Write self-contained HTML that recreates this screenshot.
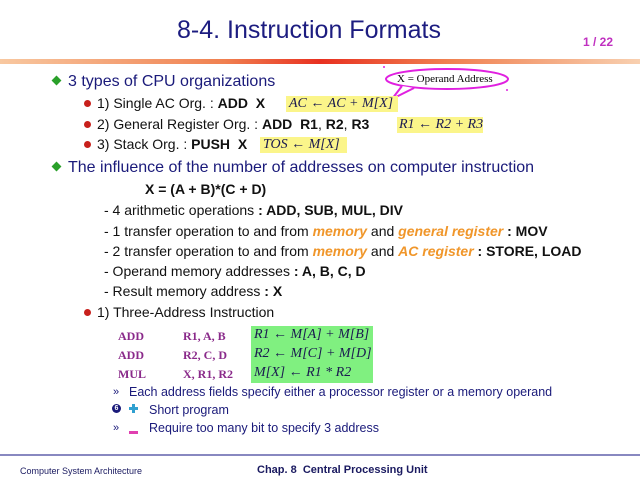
<!DOCTYPE html>
<html><head><meta charset="utf-8"><style>
body{margin:0;width:640px;height:480px;background:#fff;position:relative;overflow:hidden;font-family:"Liberation Sans",sans-serif}
.a{position:absolute;white-space:nowrap}
.n{color:#1a1a7a}
.k{color:#111}
.t15{font-size:16px;line-height:18px}
.t13{font-size:14px;line-height:16px}
.o{color:#f0962a;font-weight:bold;font-style:italic}
.dot{position:absolute;width:7px;height:7px;border-radius:50%;background:#c8201c}
.dia{position:absolute;width:7px;height:7px;background:#2aa02a;transform:rotate(45deg)}
.y{position:absolute;background:#fbf58a}
.m{font-family:"Liberation Serif",serif;font-style:italic;font-size:14px;line-height:16px;color:#1a1a50}
.p{font-family:"Liberation Serif",serif;font-weight:bold;font-size:12px;color:#8a2a8a;line-height:14px}
</style></head><body>
<div class="a" style="left:0;width:618px;text-align:center;top:16px;font-size:25px;line-height:29px;color:#1c1c80">8-4. Instruction Formats</div>
<div class="a" style="left:583px;top:35px;font-size:12px;font-weight:bold;color:#c030c0;line-height:14px">1 / 22</div>
<div class="a" style="left:0;top:59px;width:640px;height:5px;background:linear-gradient(90deg,#f8c8a0,#f08050 35%,#e83020 50%,#f08050 70%,#f8d0b0)"></div>

<div class="dia" style="left:53px;top:77px"></div>
<div class="a n t15" style="left:68px;top:73px">3 types of CPU organizations</div>
<svg class="a" style="left:370px;top:62px" width="150" height="40"><ellipse cx="77" cy="17" rx="61" ry="10" fill="#fff" stroke="#e020e0" stroke-width="2"/><path d="M32 24 L22 37 L44 26" fill="#fff" stroke="#e020e0" stroke-width="2"/><circle cx="14" cy="5" r="1" fill="#e020e0"/><circle cx="137" cy="28" r="1" fill="#e020e0"/></svg>
<div class="a" style="left:397px;top:73px;font-family:'Liberation Serif',serif;font-size:11px;line-height:13px">X = Operand Address</div>

<div class="dot" style="left:84px;top:100px"></div>
<div class="a k t13" style="left:97px;top:95px">1) Single AC Org. : <b>ADD&nbsp; X</b></div>
<div class="y" style="left:286px;top:96px;width:112px;height:16px"></div>
<div class="a m" style="left:289px;top:96px">AC ← AC + M[X]</div>
<div class="dot" style="left:84px;top:121px"></div>
<div class="a k t13" style="left:97px;top:116px">2) General Register Org. : <b>ADD&nbsp; R1</b>, <b>R2</b>, <b>R3</b></div>
<div class="y" style="left:397px;top:117px;width:86px;height:16px"></div>
<div class="a m" style="left:399px;top:117px">R1 ← R2 + R3</div>
<div class="dot" style="left:84px;top:141px"></div>
<div class="a k t13" style="left:97px;top:136px">3) Stack Org. : <b>PUSH&nbsp; X</b></div>
<div class="y" style="left:260px;top:137px;width:87px;height:16px"></div>
<div class="a m" style="left:263px;top:137px">TOS ← M[X]</div>

<div class="dia" style="left:53px;top:163px"></div>
<div class="a n t15" style="left:68px;top:159px">The influence of the number of addresses on computer instruction</div>
<div class="a k t13" style="left:145px;top:181px;font-weight:bold">X = (A + B)*(C + D)</div>
<div class="a k t13" style="left:104px;top:202px">- 4 arithmetic operations <b>: ADD, SUB, MUL, DIV</b></div>
<div class="a k t13" style="left:104px;top:223px">- 1 transfer operation to and from <span class="o">memory</span> and <span class="o">general register</span> <b>: MOV</b></div>
<div class="a k t13" style="left:104px;top:243px">- 2 transfer operation to and from <span class="o">memory</span> and <span class="o">AC register</span> <b>: STORE, LOAD</b></div>
<div class="a k t13" style="left:104px;top:263px">- Operand memory addresses <b>: A, B, C, D</b></div>
<div class="a k t13" style="left:104px;top:283px">- Result memory address <b>: X</b></div>
<div class="dot" style="left:84px;top:309px"></div>
<div class="a k t13" style="left:97px;top:304px">1) Three-Address Instruction</div>

<div class="a p" style="left:118px;top:329px">ADD</div><div class="a p" style="left:183px;top:329px">R1, A, B</div>
<div class="a p" style="left:118px;top:348px">ADD</div><div class="a p" style="left:183px;top:348px">R2, C, D</div>
<div class="a p" style="left:118px;top:367px">MUL</div><div class="a p" style="left:183px;top:367px">X, R1, R2</div>
<div class="a" style="left:251px;top:326px;width:122px;height:57px;background:#80f080"></div>
<div class="a m" style="left:254px;top:327px">R1 ← M[A] + M[B]</div>
<div class="a m" style="left:254px;top:346px">R2 ← M[C] + M[D]</div>
<div class="a m" style="left:254px;top:365px">M[X] ← R1 * R2</div>

<div class="a n" style="left:113px;top:385px;font-size:11px;line-height:14px">»</div>
<div class="a n" style="left:129px;top:384px;font-size:12.5px;line-height:16px">Each address fields specify either a processor register or a memory operand</div>
<div class="a" style="left:112px;top:404px;width:9px;height:9px;border-radius:50%;background:#1a1a7a;color:#fff;font-size:7px;line-height:9px;text-align:center;font-weight:bold">6</div>
<div class="a" style="left:129px;top:407px;width:9px;height:3px;background:#30a0d0"></div>
<div class="a" style="left:132px;top:404px;width:3px;height:9px;background:#30a0d0"></div>
<div class="a n" style="left:149px;top:402px;font-size:12.5px;line-height:16px">Short program</div>
<div class="a n" style="left:113px;top:421px;font-size:11px;line-height:14px">»</div>
<div class="a" style="left:129px;top:431px;width:9px;height:3px;background:#e040b0"></div>
<div class="a n" style="left:149px;top:420px;font-size:12.5px;line-height:16px">Require too many bit to specify 3 address</div>

<div class="a" style="left:0;top:454px;width:640px;height:2px;background:#8888c0"></div>
<div class="a" style="left:20px;top:466px;font-size:9px;line-height:11px;color:#1a1a60">Computer System Architecture</div>
<div class="a" style="left:257px;top:464px;font-size:11px;line-height:13px;font-weight:bold;color:#1a1a60">Chap. 8&nbsp; Central Processing Unit</div>
</body></html>
